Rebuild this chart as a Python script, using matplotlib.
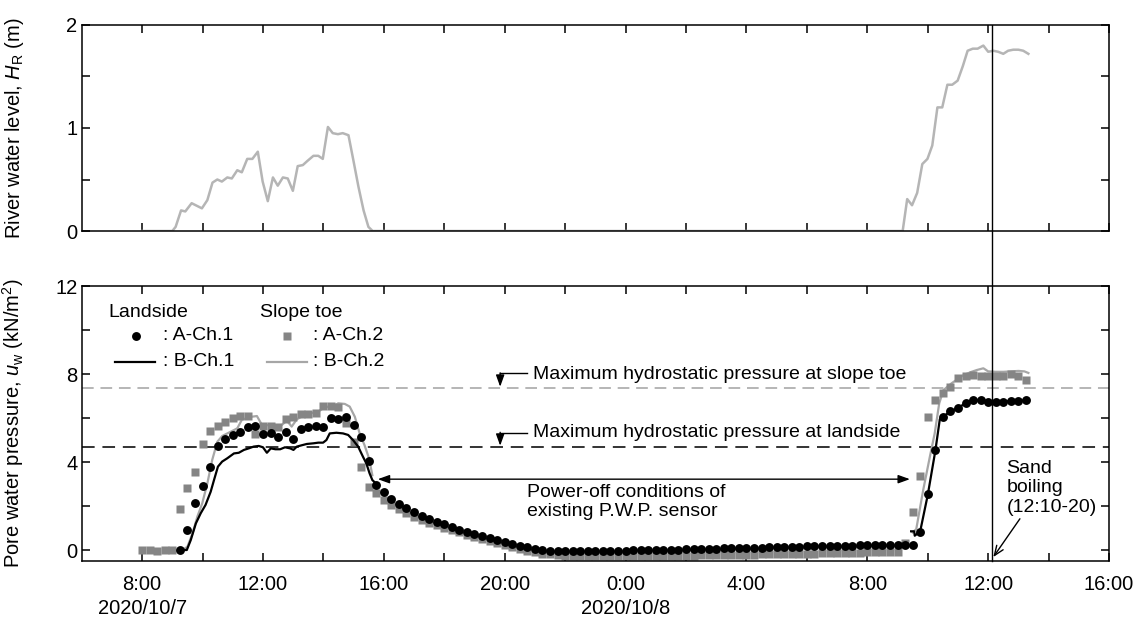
import matplotlib.pyplot as plt
import numpy as np

plt.rcParams['font.family'] = ['Liberation Sans', 'DejaVu Sans']
plt.rcParams['mathtext.fontset'] = 'custom'
plt.rcParams['mathtext.rm'] = 'Liberation Sans'
plt.rcParams['mathtext.it'] = 'Liberation Sans:italic'
plt.rcParams['font.size'] = 14

# time axis: hours counted from 2020/10/7 0:00

# river water level H_R (m)
river_t = [8.0, 9.0, 9.11, 9.29, 9.43, 9.64, 9.98, 10.16, 10.33, 10.49, 10.64, 10.82,
           10.97, 11.15, 11.30, 11.48, 11.65, 11.83, 11.99, 12.16, 12.33, 12.49, 12.66,
           12.82, 12.99, 13.15, 13.32, 13.47, 13.67, 13.83, 13.98, 14.15, 14.31, 14.48,
           14.64, 14.83, 14.99, 15.16, 15.33, 15.49, 15.63,
           33.17, 33.32, 33.48, 33.65, 33.82, 33.99, 34.15, 34.32, 34.48, 34.65, 34.81,
           34.99, 35.16, 35.32, 35.49, 35.65, 35.84, 36.00, 36.17, 36.33, 36.50, 36.66,
           36.83, 37.00, 37.16, 37.33]
river_h = [0.0, 0.0, 0.04, 0.20, 0.19, 0.27, 0.22, 0.30, 0.47, 0.50, 0.48, 0.52,
           0.51, 0.59, 0.57, 0.70, 0.70, 0.77, 0.48, 0.29, 0.52, 0.44, 0.52,
           0.51, 0.39, 0.63, 0.64, 0.68, 0.73, 0.73, 0.70, 1.01, 0.95, 0.94,
           0.95, 0.93, 0.69, 0.43, 0.20, 0.04, 0.0,
           0.0, 0.31, 0.25, 0.37, 0.65, 0.70, 0.83, 1.20, 1.20, 1.42, 1.42,
           1.46, 1.60, 1.75, 1.77, 1.77, 1.80, 1.74, 1.75, 1.74, 1.72, 1.75,
           1.76, 1.76, 1.75, 1.72]

# new sensors A (15 min logging)
a_step = 0.25
a_ch1_start = 9.25
a_ch1 = [0.00, 0.91, 2.15,
         2.91, 3.76, 4.74, 5.03,
         5.23, 5.35, 5.61, 5.65,
         5.26, 5.30, 5.12, 5.38,
         5.05, 5.48, 5.58, 5.64,
         5.58, 5.98, 5.95, 6.06,
         5.68, 5.15, 4.03, 2.97,
         2.62, 2.33, 2.10, 1.90,
         1.72, 1.56, 1.42, 1.28,
         1.16, 1.04, 0.93, 0.83,
         0.73, 0.63, 0.54, 0.45,
         0.36, 0.28, 0.20, 0.12,
         0.05, 0.00, -0.03, -0.05,
         -0.06, -0.06, -0.05, -0.05,
         -0.05, -0.04, -0.04, -0.03,
         -0.03, -0.02, -0.02, -0.01,
         0.00, 0.00, 0.01, 0.02,
         0.03, 0.04, 0.04, 0.05,
         0.06, 0.07, 0.08, 0.08,
         0.09, 0.10, 0.11, 0.12,
         0.13, 0.13, 0.14, 0.15,
         0.16, 0.17, 0.17, 0.18,
         0.19, 0.20, 0.20, 0.21,
         0.22, 0.22, 0.23, 0.23,
         0.24, 0.25, 0.23, 0.83,
         2.53, 4.55, 6.03, 6.30,
         6.45, 6.70, 6.83, 6.80,
         6.74, 6.74, 6.74, 6.78,
         6.78, 6.80]
a_ch2_start = 8.0
a_ch2 = [0.00, -0.02, -0.03, 0.00,
         0.02, 1.85, 2.83, 3.56,
         4.80, 5.42, 5.65, 5.83,
         5.98, 6.09, 6.11, 5.27,
         5.65, 5.65, 5.61, 5.94,
         6.06, 6.18, 6.18, 6.21,
         6.55, 6.56, 6.52, 5.79,
         4.92, 3.79, 2.88, 2.58,
         2.27, 2.05, 1.85, 1.67,
         1.52, 1.38, 1.25, 1.13,
         1.01, 0.90, 0.80, 0.70,
         0.60, 0.50, 0.40, 0.31,
         0.22, 0.13, 0.05, -0.03,
         -0.10, -0.16, -0.20, -0.23,
         -0.25, -0.26, -0.27, -0.27,
         -0.28, -0.28, -0.28, -0.28,
         -0.28, -0.28, -0.27, -0.27,
         -0.27, -0.26, -0.26, -0.26,
         -0.25, -0.25, -0.24, -0.24,
         -0.23, -0.23, -0.22, -0.22,
         -0.21, -0.21, -0.20, -0.20,
         -0.19, -0.18, -0.18, -0.17,
         -0.17, -0.16, -0.15, -0.15,
         -0.14, -0.13, -0.13, -0.12,
         -0.11, -0.11, -0.10, -0.10,
         -0.09, 0.30, 1.72, 3.38,
         6.06, 6.82, 7.15, 7.42,
         7.80, 7.90, 7.97, 7.90,
         7.90, 7.90, 7.90, 8.00,
         7.90, 7.73]

# existing sensors B (power off between the two events -> nan)
b_ch1_t = [9.20, 9.48, 9.61, 9.78, 9.94, 10.10, 10.27, 10.38, 10.51, 10.65, 10.82, 11.04,
           11.20, 11.37, 11.53, 11.69, 11.86, 12.00, 12.13, 12.26, 12.41, 12.57, 12.73,
           12.90, 13.01, 13.12, 13.28, 13.45, 13.67, 13.83, 13.99, 14.10, 14.21, 14.43,
           14.65, 14.82, 14.98, 15.15, 15.31, 15.42, 15.53, 15.62, 15.72,
           20.0,
           33.45, 33.55, 33.57, 33.75, 34.00, 34.25, 34.40, 34.50, 34.75, 35.00, 35.25,
           35.50, 35.75, 36.00, 36.25, 36.50, 36.75, 37.00, 37.25]
b_ch1 = [0.00, 0.00, 0.45, 1.21, 1.67, 2.05, 2.65, 3.18, 3.79, 4.02, 4.17, 4.39,
         4.42, 4.55, 4.62, 4.70, 4.73, 4.67, 4.42, 4.62, 4.58, 4.58, 4.67,
         4.62, 4.55, 4.70, 4.76, 4.82, 4.85, 4.88, 4.88, 5.00, 5.30, 5.33,
         5.30, 5.23, 5.00, 4.70, 4.24, 3.94, 3.48, 3.18, 3.05,
         np.nan,
         0.85, 0.85, 0.65, 0.85, 2.50, 4.50, 5.95, 6.05, 6.30, 6.45, 6.68,
         6.84, 6.80, 6.74, 6.74, 6.74, 6.78, 6.78, 6.80]
b_ch2_t = [9.34, 9.50, 9.67, 9.83, 9.99, 10.16, 10.32, 10.49, 10.65, 10.82, 10.98, 11.15,
           11.31, 11.47, 11.64, 11.80, 11.97, 12.13, 12.30, 12.46, 12.62, 12.79, 12.95,
           13.12, 13.28, 13.45, 13.67, 13.83, 13.99, 14.16, 14.32, 14.49, 14.71, 14.87,
           15.04, 15.20, 15.36, 15.51, 15.62,
           20.0,
           33.50, 33.62, 33.85, 34.07, 34.23, 34.38, 34.52, 34.79, 35.18, 35.45, 35.62,
           35.84, 36.00, 36.25, 36.50, 36.75, 37.00, 37.20, 37.33]
b_ch2 = [0.00, 0.15, 0.76, 1.52, 2.12, 3.03, 4.09, 4.92, 5.18, 5.30, 5.41, 5.53,
         5.94, 5.98, 6.06, 6.09, 5.68, 5.68, 5.64, 5.68, 5.68, 5.88, 5.61,
         5.94, 6.06, 6.18, 6.24, 6.29, 6.44, 6.52, 6.52, 6.67, 6.64, 6.52,
         6.06, 5.30, 4.77, 4.17, 3.40,
         np.nan,
         0.80, 0.95, 2.73, 4.24, 5.30, 6.67, 7.27, 7.58, 7.95, 8.10, 8.18,
         8.26, 8.12, 8.10, 8.10, 8.12, 8.14, 8.12, 8.05]

hydro_landside = 4.67
hydro_toe = 7.35
boiling_time = 36.12

tick_pos = [8, 10, 12, 14, 16, 18, 20, 22, 24, 26, 28, 30, 32, 34, 36, 38, 40]
tick_lab = ['8:00\n2020/10/7', '', '12:00', '', '16:00', '', '20:00', '',
            '0:00\n2020/10/8', '', '4:00', '', '8:00', '', '12:00', '', '16:00']

t_ch1 = a_ch1_start + a_step * np.arange(len(a_ch1))
t_ch2 = a_ch2_start + a_step * np.arange(len(a_ch2))

c_sq = '#858585'
c_bline = '#a6a6a6'
c_river = '#b5b5b5'

fig = plt.figure(figsize=(11.34, 6.23), dpi=100)
ax1 = fig.add_axes([0.072, 0.6292, 0.906, 0.3307])
ax2 = fig.add_axes([0.072, 0.0995, 0.906, 0.4414])

for ax in (ax1, ax2):
    ax.set_xlim(6, 40)
    ax.set_xticks(tick_pos)
    ax.tick_params(direction='in', top=True, right=True, length=6, width=1.1,
                   labelsize=14.5)
    for s in ax.spines.values():
        s.set_linewidth(1.1)

# top panel
ax1.plot(river_t, river_h, color=c_river, lw=1.8)
ax1.set_ylim(0, 2)
ax1.set_yticks([0, 0.5, 1, 1.5, 2])
ax1.set_yticklabels(['0', '', '1', '', '2'])
ax1.set_xticklabels([])
ax1.tick_params(axis='y', pad=3)
ax1.set_ylabel('River water level, $H_\\mathrm{R}$ (m)', fontsize=14.5)
ax1.yaxis.set_label_coords(-0.054, 0.5)
ax1.axvline(boiling_time, color='k', lw=1.0)

# bottom panel
ax2.axhline(hydro_toe, color='#b5b5b5', lw=1.4, dashes=(6, 3.5))
ax2.axhline(hydro_landside, color='#333333', lw=1.4, dashes=(6.5, 4))
ax2.plot(b_ch2_t, b_ch2, color=c_bline, lw=1.6)
ax2.plot(t_ch2, a_ch2, 's', color=c_sq, ms=5.8, mec='none')
ax2.plot(b_ch1_t, b_ch1, color='k', lw=1.6)
ax2.plot(t_ch1, a_ch1, 'o', color='k', ms=6.4, mec='none')
ax2.axvline(boiling_time, ymin=0, ymax=1.2, color='k', lw=1.0, clip_on=False)

ax2.set_ylim(-0.5, 12)
ax2.set_yticks([0, 2, 4, 6, 8, 10, 12])
ax2.set_yticklabels(['0', '', '4', '', '8', '', '12'])
ax2.set_xticklabels(tick_lab, linespacing=1.35)
ax2.tick_params(axis='x', pad=10)
ax2.tick_params(axis='y', pad=3)
ax2.set_ylabel('Pore water pressure, $u_\\mathrm{w}$ (kN/m$^2$)', fontsize=14.5)
ax2.yaxis.set_label_coords(-0.054, 0.5)

# legend drawn by hand
ax2.text(6.87, 10.79, 'Landside', va='center', fontsize=14)
ax2.plot(7.79, 9.74, 'o', color='k', ms=6.4, mec='none')
ax2.text(8.70, 9.74, ': A-Ch.1', va='center', fontsize=14)
ax2.plot([7.11, 8.43], [8.56, 8.56], color='k', lw=1.6)
ax2.text(8.70, 8.56, ': B-Ch.1', va='center', fontsize=14)
ax2.text(11.9, 10.79, 'Slope toe', va='center', fontsize=14)
ax2.plot(12.81, 9.74, 's', color=c_sq, ms=5.8, mec='none')
ax2.text(13.67, 9.74, ': A-Ch.2', va='center', fontsize=14)
ax2.plot([12.13, 13.45], [8.56, 8.56], color=c_bline, lw=1.6)
ax2.text(13.67, 8.56, ': B-Ch.2', va='center', fontsize=14)

# hydrostatic pressure notes
ax2.text(20.94, 8.0, 'Maximum hydrostatic pressure at slope toe', va='center', fontsize=14)
ax2.plot([20.73, 19.85], [8.03, 8.03], color='k', lw=1.0)
ax2.annotate('', xy=(19.85, 7.42), xytext=(19.85, 8.05),
             arrowprops=dict(arrowstyle='-|>,head_length=0.5,head_width=0.18',
                             color='k', lw=1.0, shrinkA=0, shrinkB=0))
ax2.text(20.94, 5.33, 'Maximum hydrostatic pressure at landside', va='center', fontsize=14)
ax2.plot([20.73, 19.85], [5.33, 5.33], color='k', lw=1.0)
ax2.annotate('', xy=(19.85, 4.74), xytext=(19.85, 5.35),
             arrowprops=dict(arrowstyle='-|>,head_length=0.5,head_width=0.18',
                             color='k', lw=1.0, shrinkA=0, shrinkB=0))

# power-off period
ax2.annotate('', xy=(15.8, 3.22), xytext=(33.41, 3.22),
             arrowprops=dict(arrowstyle='<|-|>,head_length=0.5,head_width=0.18',
                             color='k', lw=1.0, shrinkA=0, shrinkB=0))
ax2.text(20.73, 2.19, 'Power-off conditions of\nexisting P.W.P. sensor',
         va='center', fontsize=14, linespacing=1.2)

# sand boiling
ax2.text(36.61, 2.83, 'Sand\nboiling\n(12:10-20)', va='center', fontsize=14,
         linespacing=1.18)
ax2.annotate('', xy=(36.17, -0.32), xytext=(37.05, 1.42),
             arrowprops=dict(arrowstyle='->,head_length=0.5,head_width=0.2',
                             color='k', lw=1.0, shrinkA=0, shrinkB=0))

fig.savefig('out.png', dpi=100)
